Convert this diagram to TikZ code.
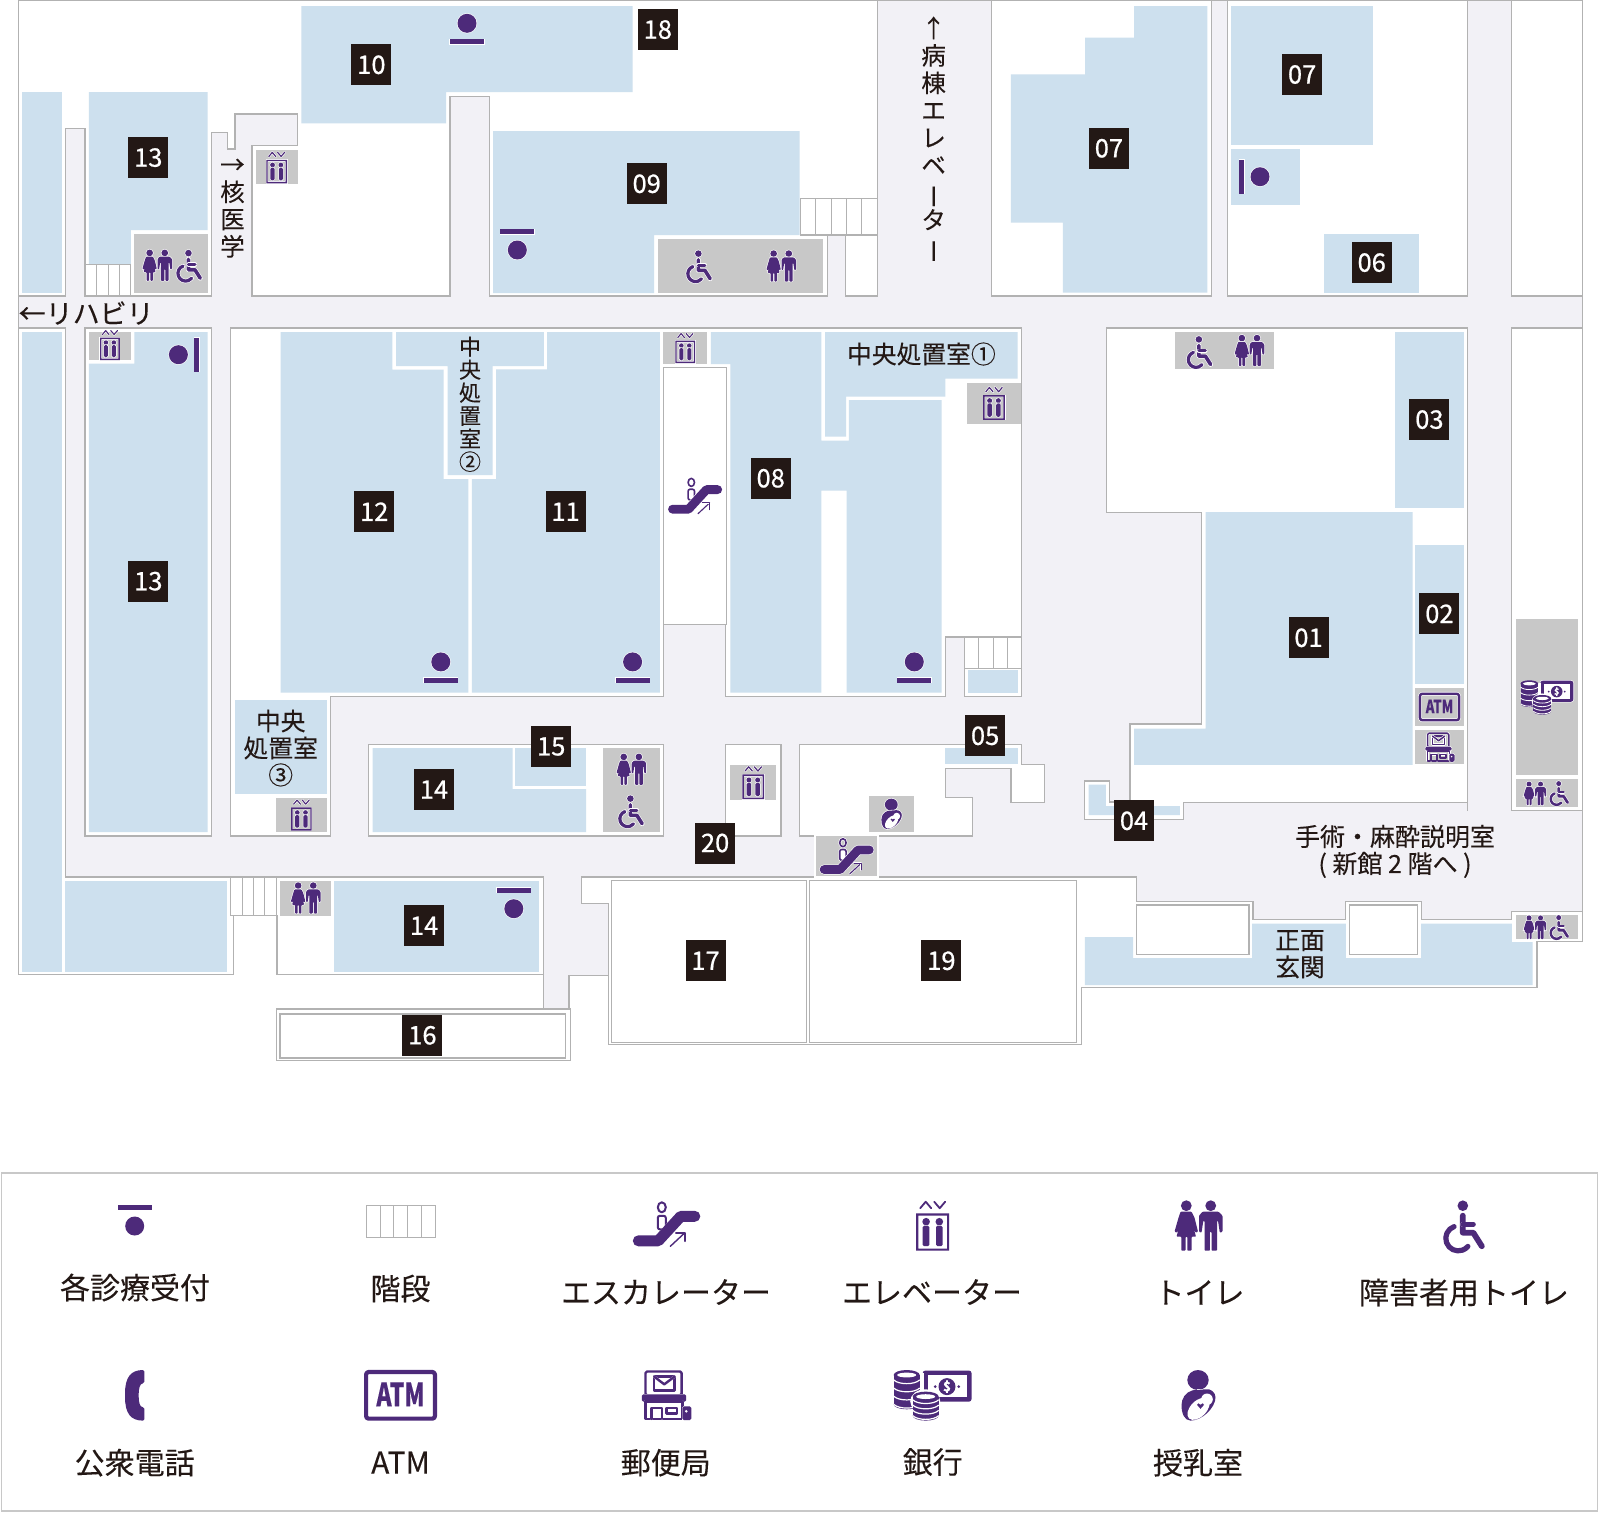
\documentclass[tikz,border=0pt]{standalone}
\usepackage{fontspec}
\setmainfont[FakeBold=0.12]{Noto Sans CJK JP}
\newfontfamily\tagfont[FakeBold=0.7]{Noto Sans CJK JP}
\usetikzlibrary{positioning}

\definecolor{zoneblue}{HTML}{CDE0EE}
\definecolor{hallgray}{HTML}{F2F1F6}
\definecolor{wallgray}{HTML}{B2B2B2}
\definecolor{svcgray}{HTML}{C8C8C8}
\definecolor{tagblack}{HTML}{231815}
\definecolor{markpurple}{HTML}{4D2A7A}

\newcommand{\choonbar}{\hspace{8.5pt}\rotatebox[origin=c]{90}{ー}}
\newcommand{\coinstack}[3]{%
    \fill[markpurple] ({#1-13},#2) rectangle ({#1+13},{#3});
    \fill[markpurple] (#1,#2) ellipse[x radius=13, y radius=5];
    \fill[markpurple] (#1,#3) ellipse[x radius=13, y radius=5];
    \fill[white] (#1,#2) ellipse[x radius=9.5, y radius=2.4];
    \foreach \yy in {0,1,2,3} {
        \pgfmathsetmacro{\yb}{#2+(#3-#2)*(\yy+0.6)/3.6}
        \draw[white, line width={\pgfkeysvalueof{/tikz/penw}*0.3pt}] ({#1-13},\yb) .. controls ({#1-8},{\yb+5}) and ({#1+8},{\yb+5}) .. ({#1+13},\yb);
    }
}

\tikzset{
    penw/.initial=4,
    halow/.initial=0,
    ink/.style={fill=markpurple, preaction={draw=white, line width={\pgfkeysvalueof{/tikz/halow}*1pt}}},
    inkline/.style={draw=markpurple, line cap=round, line join=round,
        line width={\pgfkeysvalueof{/tikz/penw}*#1pt},
        preaction={draw=white, line cap=round, line join=round,
            line width={\pgfkeysvalueof{/tikz/penw}*#1pt+\pgfkeysvalueof{/tikz/halow}*1pt}}},
    inkline/.default=1,
    mapicon/.style={scale=#1, penw/.evaluated={4*#1}, halow=1.2},
    pics/recep/.style={code={
        \path[ink] (0,0) circle (9.5);
        \path[ink] (-17,16) rectangle (17,20.8);
    }},
    pics/elev/.style={code={
        \path[inkline=0.45] (-12.5,-17.5) -- (-7,-24) -- (-1.5,-17.5);
        \path[inkline=0.45] (1.5,-24) -- (7,-17.5) -- (12.5,-24);
        \path[ink, even odd rule] (-16.5,-12.3) rectangle (16.5,25) (-14.3,-10) rectangle (14.3,22.8);
        \path[ink] (-6.6,-4) circle (3.8);
        \path[ink] (6.6,-4) circle (3.8);
        \path[ink, rounded corners=1.5] (-10,0) rectangle (-3.3,20.5);
        \path[ink, rounded corners=1.5] (3.3,0) rectangle (10,20.5);
    }},
    pics/toilet/.style={code={
        \path[ink] (-12.2,-20) circle (5.4);
        \path[ink] (12.2,-20) circle (5.4);
        \path[ink, rounded corners=0.8] (-18,-14) -- (-7,-14) -- (-4,-8) -- (-0.5,6) -- (-3,7) -- (-5,2)
            -- (-2.5,11) -- (-7,11) -- (-7,25) -- (-11.2,25) -- (-11.2,11) -- (-13,11) -- (-13,25)
            -- (-17.2,25) -- (-17.2,11) -- (-22,11) -- (-19.5,2) -- (-21.5,7) -- (-24,6) -- (-20,-8) -- cycle;
        \path[ink, rounded corners=0.8] (4,-14) -- (20,-14) -- (24,-10) -- (24,6) -- (21.3,7) -- (19.5,-5)
            -- (18.5,-5) -- (18.5,25) -- (13,25) -- (13,6) -- (11.4,6) -- (11.4,25) -- (6,25) -- (6,-5) -- (4.8,-5)
            -- (3,7) -- (0.5,6) -- (0.5,-10) -- cycle;
    }},
    pics/wheelchair/.style={code={
        \path[ink] (-1.5,-20) circle (5.3);
        \path[inkline=1.45] (-1.5,-10) -- (-1.5,7) -- (9,7) -- (17.5,20.5);
        \path[inkline=1.25] (-1.5,-1.5) -- (9,-1.5);
        \path[inkline=1.3] (-10.3,0.9) arc[start angle=-110, end angle=-320, radius=12.5];
    }},
    pics/escal/.style={code={
        \path[inkline=0.5] (-4,-17) ellipse[x radius=4, y radius=5];
        \path[inkline=0.5, fill=white, rounded corners=2] (-8,-8.5) rectangle (0,5);
        \path[inkline=2.75] (-27.5,16.5) -- (-7.5,16.5) -- (15,-8) -- (29,-8);
        \path[inkline=0.35] (4.5,22) -- (19,8.5);
        \path[inkline=0.35] (10,8.5) -- (19,8.5) -- (19,17);
    }},
    pics/atm/.style={code={
        \path[inkline=1.05, rounded corners=2.5] (-34.4,-23.3) rectangle (34.4,23.3);
        \node[transform shape, xscale=0.72, inner sep=0, text=markpurple,
              font=\bfseries\fontsize{32}{32}\selectfont] (atmword) at (0,-1) {ATM};
    }},
    pics/post/.style={code={
        \path[inkline=0.6, rounded corners=1.5] (-20.3,-23.8) rectangle (15.8,0);
        \path[inkline=0.6] (-11.7,-18.7) rectangle (8.7,-4.7);
        \path[inkline=0.6] (-11.7,-18.7) -- (-1.5,-11) -- (8.7,-18.7);
        \path[ink, rounded corners=1.5] (-24,-1) rectangle (20.4,6.3);
        \path[inkline=0.6] (-20.3,6.3) rectangle (16.5,23.5);
        \path[inkline=0.6] (-14.5,23.5) -- (-14.5,12.5) -- (-4,12.5) -- (-4,23.5);
        \path[inkline=0.6] (0.8,12.5) rectangle (11.2,18);
        \path[ink, rounded corners=1.5] (16.5,11) rectangle (25.5,24.7);
        \fill[white] (20.5,16) circle (1.4);
    }},
    pics/bank/.style={code={
        \path[ink, rounded corners=2.5] (-10,-24.7) rectangle (38.8,6.3);
        \fill[white] (-5,-20) rectangle (34,1.6);
        \fill[markpurple] (14.3,-8.7) circle (8.5);
        \fill[markpurple] (2.5,-8.7) circle (1.5);
        \fill[markpurple] (26,-8.7) circle (1.5);
        \node[transform shape, inner sep=0, text=white, font=\bfseries\fontsize{13}{13}\selectfont] (bankmark) at (14.3,-8.7) {\$};
        \fill[white] (-13,-22) rectangle (-9,10);
        \coinstack{-26}{-20.3}{9}
        \fill[white] (-7.5,6) ellipse[x radius=15, y radius=12];
        \coinstack{-7}{1.3}{20.3}
    }},
    pics/nursing/.style={code={
        \path[ink] (-0.5,-15.3) ellipse[x radius=10.7, y radius=10];
        \path[ink] (-6,-5) .. controls (-13,-3) and (-17,3) .. (-17,10)
            .. controls (-17,18) and (-14,25.3) .. (-8,25.3)
            .. controls (4,25.3) and (17,12) .. (17,2)
            .. controls (17,-3) and (12,-7) .. (7,-6) -- cycle;
        \fill[white, rotate around={45:(0,13.5)}] (0,13.5) ellipse[x radius=13.5, y radius=8];
        \fill[white] (8.5,4) circle (5.8);
        \fill[markpurple] (2,13.5) -- (-1.5,9.5) .. controls (-1.5,7.5) and (1,7.5) .. (2,9.5)
            .. controls (3,7.5) and (5.5,7.5) .. (5.5,9.5) -- cycle;
    }},
    pics/phone/.style={code={
        \path[ink, rounded corners=1.5] (9.7,-25.3) .. controls (-4,-25.3) and (-9.7,-18) .. (-9.7,0)
            .. controls (-9.7,18) and (-4,25.3) .. (9.7,25.3) -- (9.7,12) .. controls (5,12) and (4,6) .. (4,0)
            .. controls (4,-6) and (5,-12) .. (9.7,-12) -- cycle;
    }},
}

\begin{document}
\begin{tikzpicture}[
    x=1pt, y=-1pt,
    wall/.style={draw=wallgray, line width=1.3pt},
    room/.style={wall, fill=white},
    zone/.style={fill=zoneblue},
    svc/.style={fill=svcgray},
    stairbox/.style={draw=wallgray, line width=1.1pt, fill=white},
    stairline/.style={draw=wallgray, line width=1.1pt},
    numtag/.style={fill=tagblack, text=white, minimum width=40pt, minimum height=41pt, yshift=0.7pt,
                   inner sep=0pt, font=\tagfont\fontsize{25.5}{25.5}\selectfont},
    maptext/.style={text=tagblack, inner sep=0pt, align=center, font=\fontsize{24.8}{27}\selectfont},
    keytext/.style={text=tagblack, inner sep=0pt, font=\fontsize{30}{32}\selectfont}
]
    \useasboundingbox (0,0) rectangle (1600,1513);
    \fill[white] (0,0) rectangle (1600,1513);

    % === Building and corridors ===
    \path[wall, fill=hallgray] (18.6,0.7) -- (1582.8,0.7) -- (1582.8,941.3) -- (1537,941.3) -- (1537,987.2)
        -- (1081.7,987.2) -- (1081.7,1044.2) -- (608.5,1044.2) -- (608.5,975.7) -- (568.9,975.7) -- (568.9,1010)
        -- (543.8,1010) -- (543.8,974.6) -- (276.9,974.6) -- (276.9,915.2) -- (233.2,915.2) -- (233.2,974.6)
        -- (18.6,974.6) -- cycle;

    % === Rooms above the main corridor ===
    \path[room] (18.6,0.7) -- (877.2,0.7) -- (877.2,296) -- (845.5,296) -- (845.5,235) -- (827.2,235) -- (827.2,296)
        -- (489.4,296) -- (489.4,96.7) -- (450,96.7) -- (450,296) -- (252,296) -- (252,145.7) -- (297.5,145.7)
        -- (297.5,114) -- (234.9,114) -- (234.9,149) -- (227.3,149) -- (227.3,132.3) -- (211.4,132.3) -- (211.4,296)
        -- (85,296) -- (85,128.3) -- (65.4,128.3) -- (65.4,296) -- (18.6,296) -- cycle;
    \path[room] (991.5,0.7) rectangle (1211.5,296);
    \path[room] (1227.4,0.7) rectangle (1467.8,296);
    \path[room] (1511.5,0.7) rectangle (1582.8,296);

    % === Rooms below the main corridor ===
    \path[room] (18.6,328) -- (65.4,328) -- (65.4,877) -- (543.8,877) -- (543.8,974.6) -- (276.9,974.6)
        -- (276.9,915.2) -- (233.2,915.2) -- (233.2,974.6) -- (18.6,974.6) -- cycle;
    \path[room] (85,328) rectangle (211.4,836);
    \path[room] (230.7,328) -- (1021.4,328) -- (1021.4,696.3) -- (964.6,696.3) -- (964.6,637) -- (945.3,637)
        -- (945.3,696.3) -- (725.6,696.3) -- (725.6,624.4) -- (663.3,624.4) -- (663.3,696.3) -- (330.6,696.3)
        -- (330.6,836) -- (230.7,836) -- cycle;
    \path[room] (663.3,367.7) rectangle (726.3,624.4);
    \path[room] (368.5,744.2) rectangle (663.3,836);
    \path[room] (725.6,744.2) rectangle (781,836);
    \path[room] (799.6,744.2) -- (1021.4,744.2) -- (1021.4,764.4) -- (1044.8,764.4) -- (1044.8,802.3) -- (1011,802.3)
        -- (1011,768.3) -- (945.3,768.3) -- (945.3,797.7) -- (972.5,797.7) -- (972.5,836) -- (799.6,836) -- cycle;
    \path[room] (1106.5,328) -- (1467.8,328) -- (1467.8,802.3) -- (1183.3,802.3) -- (1183.3,819.2) -- (1084.8,819.2)
        -- (1084.8,780.9) -- (1109.2,780.9) -- (1109.2,802) -- (1129.9,802) -- (1129.9,723.9) -- (1201.5,723.9)
        -- (1201.5,512.2) -- (1106.5,512.2) -- cycle;
    \draw[wall] (1467.8,802.3) -- (1467.8,811);
    \path[room] (1511.5,328) rectangle (1582.8,810.4);
    \path[room] (581.7,877) -- (1136.5,877) -- (1136.5,901.8) -- (1252.9,901.8) -- (1252.9,919.8) -- (1345.8,919.8)
        -- (1345.8,901.8) -- (1421.6,901.8) -- (1421.6,919.8) -- (1511.5,919.8) -- (1511.5,911.4) -- (1582.8,911.4)
        -- (1582.8,941.3) -- (1537,941.3) -- (1537,987.2) -- (1081.7,987.2) -- (1081.7,1044.2) -- (608.5,1044.2)
        -- (608.5,903.7) -- (581.7,903.7) -- cycle;
    \path[room] (276.2,1009) rectangle (570.3,1060.6);
    \path[room] (280,1014) rectangle (565.5,1058);

    % === Blue departments ===
    \path[zone] (22,92) rectangle (62,292.7);
    \path[zone] (88.8,92) -- (207.7,92) -- (207.7,230) -- (130.9,230) -- (130.9,264.7) -- (88.8,264.7) -- cycle;
    \path[zone] (301.3,6) -- (632.6,6) -- (632.6,92) -- (446,92) -- (446,123.3) -- (301.3,123.3) -- cycle;
    \path[zone] (493.2,131) -- (799.7,131) -- (799.7,235) -- (654,235) -- (654,293) -- (493.2,293) -- cycle;
    \path[zone] (1010.8,74.3) -- (1085.1,74.3) -- (1085.1,37.7) -- (1134,37.7) -- (1134,6) -- (1207.4,6) -- (1207.4,292.7)
        -- (1062.8,292.7) -- (1062.8,222.7) -- (1010.8,222.7) -- cycle;
    \path[zone] (1231.2,6) rectangle (1372.7,145.3);
    \path[zone] (1231.2,149) rectangle (1300,204.7);
    \path[zone] (1324.2,234) rectangle (1419.2,292.7);
    \path[zone] (1395,332) rectangle (1463.6,508.4);
    \path[zone] (22,332) rectangle (62,971.9);
    \path[zone] (134.3,332) -- (207.7,332) -- (207.7,832.2) -- (88.8,832.2) -- (88.8,363.7) -- (134.3,363.7) -- cycle;
    \path[zone] (65.4,881) rectangle (227.3,971.9);
    \path[zone] (280.7,332) -- (392.4,332) -- (392.4,369.5) -- (443.5,369.5) -- (443.5,479) -- (468.4,479) -- (468.4,692.5)
        -- (280.7,692.5) -- cycle;
    \path[zone] (396,332) -- (543.8,332) -- (543.8,366) -- (492.5,366) -- (492.5,475) -- (447.7,475) -- (447.7,366) -- (396,366) -- cycle;
    \path[zone] (471.8,479) -- (496,479) -- (496,369.3) -- (547.2,369.3) -- (547.2,332) -- (659.8,332) -- (659.8,692.5)
        -- (471.8,692.5) -- cycle;
    \path[zone] (710.8,332) -- (821.3,332) -- (821.3,440.7) -- (848.9,440.7) -- (848.9,400) -- (941.5,400) -- (941.5,692.5)
        -- (846.6,692.5) -- (846.6,490.7) -- (821.3,490.7) -- (821.3,692.5) -- (730.4,692.5) -- (730.4,364) -- (710.8,364) -- cycle;
    \path[zone] (825.1,332) -- (1017.7,332) -- (1017.7,378.7) -- (945.3,378.7) -- (945.3,396.7) -- (846.1,396.7)
        -- (846.1,436.7) -- (825.1,436.7) -- cycle;
    \path[zone] (968.4,670) rectangle (1017.7,692.5);
    \path[zone] (234.5,700) rectangle (326.5,793.9);
    \path[zone] (372.6,748) -- (512.5,748) -- (512.5,789) -- (586,789) -- (586,832.2) -- (372.6,832.2) -- cycle;
    \path[zone] (515.2,748) rectangle (586,785.5);
    \path[zone] (334,881) rectangle (539.3,971.9);
    \path[zone] (945,748) rectangle (1017.6,764.4);
    \path[zone] (1205.7,512.2) -- (1412.7,512.2) -- (1412.7,764.8) -- (1134,764.8) -- (1134,728.5) -- (1205.7,728.5) -- cycle;
    \path[zone] (1415,545.2) rectangle (1463.6,684);
    \path[zone] (1088.6,784.7) -- (1105.8,784.7) -- (1105.8,806.1) -- (1179.8,806.1) -- (1179.8,815) -- (1088.6,815) -- cycle;
    \path[zone] (1084.8,937) -- (1133,937) -- (1133,958) -- (1252.2,958) -- (1252.2,923.6) -- (1345.8,923.6) -- (1345.8,958)
        -- (1421,958) -- (1421,923.6) -- (1511.8,923.6) -- (1511.8,942) -- (1532.5,942) -- (1532.5,985.2) -- (1084.8,985.2) -- cycle;
    \path[room] (1136.5,904.9) rectangle (1249,954.2);
    \path[room] (1349.6,904.9) rectangle (1417.8,954.2);
    \path[room] (611.6,880.4) rectangle (806.5,1042.3);
    \path[room] (809.6,880.4) rectangle (1076.5,1042.3);

    % === Gray service rooms ===
    \path[svc] (134.3,234) rectangle (207.7,293.3);
    \path[svc] (255.5,150) rectangle (297.5,184.3);
    \path[svc] (658.1,239) rectangle (822.7,292.7);
    \path[svc] (1175,332) rectangle (1274.2,368.7);
    \path[svc] (88.8,332) rectangle (130.9,360);
    \path[svc] (663.3,332) rectangle (707,364);
    \path[svc] (966.7,382.7) rectangle (1020.8,424.3);
    \path[svc] (275.9,798) rectangle (326.5,832.2);
    \path[svc] (603,748) rectangle (659.8,832.2);
    \path[svc] (730,764.8) rectangle (775.9,800);
    \path[svc] (869.2,796.2) rectangle (914,832.2);
    \path[svc, draw=white, line width=1.5pt] (814.8,835.6) rectangle (877.8,877);
    \path[svc] (280,881) rectangle (330.6,915.6);
    \path[svc] (1415,687.9) rectangle (1463.6,726.2);
    \path[svc] (1415,730) rectangle (1463.6,764.4);
    \path[svc] (1515.6,619.4) rectangle (1578,775.2);
    \path[svc] (1515.6,779) rectangle (1578,806.5);
    \path[svc] (1515.6,915.2) rectangle (1578,938.9);

    % === Stairs ===
    \path[stairbox] (85,264.7) rectangle (130.9,296);
    \foreach \sx in {96.8,108.1,119.5} \draw[stairline] (\sx,264.7) -- (\sx,296);
    \path[stairbox] (800.3,198.3) rectangle (877.2,235);
    \foreach \sx in {815.8,831.3,846.5,861.6} \draw[stairline] (\sx,198.3) -- (\sx,235);
    \path[stairbox] (964.6,637) rectangle (1021.4,668.8);
    \foreach \sx in {978.7,993.2,1007.3} \draw[stairline] (\sx,637) -- (\sx,668.8);
    \path[stairbox] (230.7,877) rectangle (276.2,915.2);
    \foreach \sx in {242.1,253.8,264.8} \draw[stairline] (\sx,877) -- (\sx,915.2);

    % === Map icons ===
    \pic[mapicon=1] at (467,23.3) {recep};
    \pic[mapicon=1, rotate=180] at (517.3,250) {recep};
    \pic[mapicon=1, rotate=90] at (178.4,354.7) {recep};
    \pic[mapicon=1, rotate=-90] at (1260,176.7) {recep};
    \pic[mapicon=1] at (440.8,661.9) {recep};
    \pic[mapicon=1] at (632.6,661.9) {recep};
    \pic[mapicon=1] at (914.3,661.9) {recep};
    \pic[mapicon=1, rotate=180] at (513.8,908.7) {recep};

    \pic[mapicon=0.63] at (276.7,167.5) {elev};
    \pic[mapicon=0.6] at (109.9,345) {elev};
    \pic[mapicon=0.6] at (685.3,348) {elev};
    \pic[mapicon=0.66] at (994,403.3) {elev};
    \pic[mapicon=0.62] at (301.4,815) {elev};
    \pic[mapicon=0.66] at (753.3,782.6) {elev};

    \pic[mapicon=0.62] at (157.2,265.3) {toilet};
    \pic[mapicon=0.62] at (189.4,265.5) {wheelchair};
    \pic[mapicon=0.62] at (699.3,266) {wheelchair};
    \pic[mapicon=0.62] at (781.2,266) {toilet};
    \pic[mapicon=0.62] at (1199.8,351.8) {wheelchair};
    \pic[mapicon=0.62] at (1249.4,350.5) {toilet};
    \pic[mapicon=0.62] at (305.7,898) {toilet};
    \pic[mapicon=0.62] at (631.3,769.3) {toilet};
    \pic[mapicon=0.62] at (631.3,811) {wheelchair};
    \pic[mapicon=0.47] at (1534.8,793.5) {toilet};
    \pic[mapicon=0.47] at (1559.4,793) {wheelchair};
    \pic[mapicon=0.47] at (1534.8,927.3) {toilet};
    \pic[mapicon=0.47] at (1559.4,927) {wheelchair};

    \pic[mapicon=0.8] at (694.5,496) {escal};
    \pic[mapicon=0.8] at (846.1,856.3) {escal};
    \pic[mapicon=0.57] at (1439.5,707) {atm};
    \pic[mapicon=0.59] at (1439.5,747.2) {post};
    \pic[mapicon=0.68] at (1547,697.5) {bank};
    \pic[mapicon=0.6] at (891.6,813.8) {nursing};

    % === Number tags ===
    \node[numtag] (n10) at (371.4,65.5) {10};
    \node[numtag] (n18) at (657.8,30.3) {18};
    \node[numtag] (n13a) at (148.3,158.3) {13};
    \node[numtag] (n09) at (646.7,184.5) {09};
    \node[numtag] (n07a) at (1108.9,149) {07};
    \node[numtag] (n07b) at (1302.1,75.2) {07};
    \node[numtag] (n06) at (1371.7,263.3) {06};
    \node[numtag] (n03) at (1429.4,420.3) {03};
    \node[numtag] (n08) at (770.7,479) {08};
    \node[numtag] (n12) at (374.2,512.4) {12};
    \node[numtag] (n11) at (565.6,512.4) {11};
    \node[numtag] (n13b) at (148.3,581.9) {13};
    \node[numtag] (n14a) at (434,790.3) {14};
    \node[numtag] (n14b) at (424.1,926.5) {14};
    \node[numtag] (n16) at (422.4,1036) {16};
    \node[numtag] (n15) at (551.2,747.2) {15};
    \node[numtag] (n20) at (715.1,843.7) {20};
    \node[numtag] (n05) at (985.1,736.5) {05};
    \node[numtag] (n17) at (705.5,961.5) {17};
    \node[numtag] (n19) at (941.4,961.5) {19};
    \node[numtag] (n01) at (1308.5,638.5) {01};
    \node[numtag] (n02) at (1439.4,614.6) {02};
    \node[numtag] (n04) at (1134,821.5) {04};

    % === Map texts ===
    \node[maptext, anchor=west, font=\fontsize{27}{27}\selectfont] (rehab) at (18.5,313) {←リハビリ};
    \node[maptext, font=\fontsize{24.5}{27.3}\selectfont] (nuclear) at (232.5,208.2) {→\\核\\医\\学};
    \node[maptext, font=\fontsize{24.5}{27.4}\selectfont] (wardlift) at (933.6,140) {↑\\病\\棟\\エ\\レ\\ベ\\\choonbar\\タ\\\choonbar};
    \node[maptext, font=\fontsize{22}{23}\selectfont] (treat2) at (470,404.2) {中\\央\\処\\置\\室\\②};
    \node[maptext] (treat1) at (921.4,354) {中央処置室①};
    \node[maptext] (treat3) at (280.7,748) {中央\\処置室\\③};
    \node[maptext, font=\fontsize{25}{27}\selectfont] (surgery) at (1395,851.4) {手術・麻酔説明室\\( 新館 2 階へ )};
    \node[maptext] (entrance) at (1300,954.2) {正面\\玄関};

    % === Legend ===
    \path[draw=svcgray, line width=1.6pt, fill=white] (1.5,1172.7) rectangle (1597.4,1511);
    \pic[rotate=180] at (134.7,1226) {recep};
    \path[draw=wallgray, line width=1pt] (366.3,1205.3) rectangle (435.2,1237.3);
    \foreach \sx in {380,393.9,407.7,421.4} \draw[draw=wallgray, line width=1pt] (\sx,1205.3) -- (\sx,1237.3);
    \pic at (665.8,1224.3) {escal};
    \pic at (932.7,1225.7) {elev};
    \pic at (1198.5,1225.7) {toilet};
    \pic at (1464.3,1225.7) {wheelchair};
    \pic at (134.7,1395.3) {phone};
    \pic at (400.5,1395.3) {atm};
    \pic at (665.8,1395.3) {post};
    \pic at (932.7,1395.3) {bank};
    \pic at (1198.5,1395.3) {nursing};

    \node[keytext] (keyrecep) at (135,1287.5) {各診療受付};
    \node[keytext] (keystair) at (400.5,1288.5) {階段};
    \node[keytext] (keyescal) at (666,1292) {エスカレーター};
    \node[keytext] (keyelev) at (932,1292) {エレベーター};
    \node[keytext] (keytoilet) at (1199.5,1292.5) {トイレ};
    \node[keytext] (keywheel) at (1464,1292.5) {障害者用トイレ};
    \node[keytext] (keyphone) at (134.7,1462.7) {公衆電話};
    \node[keytext] (keyatm) at (400.5,1462.7) {ATM};
    \node[keytext] (keypost) at (665.8,1462.7) {郵便局};
    \node[keytext] (keybank) at (932.7,1462) {銀行};
    \node[keytext] (keynurse) at (1198,1462.7) {授乳室};
\end{tikzpicture}
\end{document}
